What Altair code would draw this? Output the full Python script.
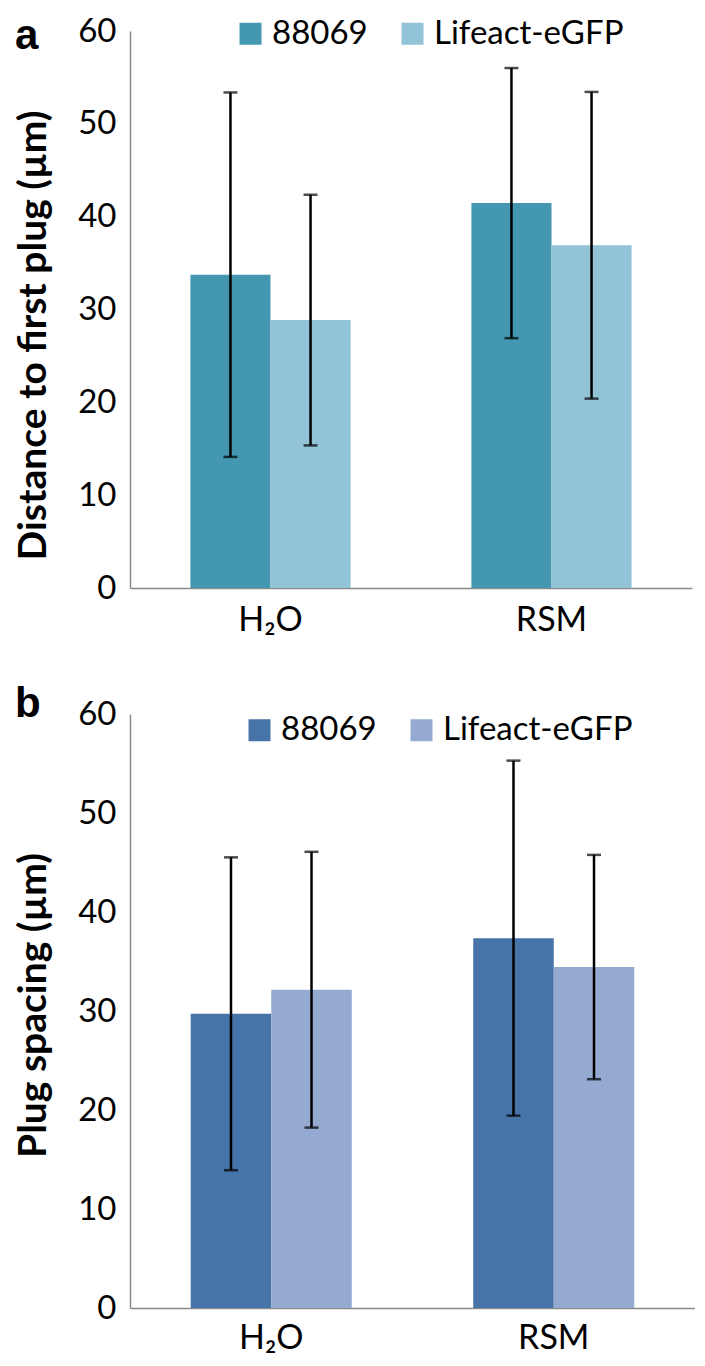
import altair as alt
import pandas as pd

treatments = ["H₂O", "RSM"]
strains = ["88069", "Lifeact-eGFP"]

# panel a: distance to first plug (mean, sd)
a_mean_88069 = [33.75, 41.46]
a_sd_88069 = [19.63, 14.55]
a_mean_lifeact = [28.86, 36.92]
a_sd_lifeact = [13.50, 16.52]

# panel b: plug spacing (mean, sd)
b_mean_88069 = [29.72, 37.36]
b_sd_88069 = [15.80, 17.93]
b_mean_lifeact = [32.15, 34.44]
b_sd_lifeact = [13.93, 11.33]

colors_a = ["#4397B0", "#93C3D6"]
colors_b = ["#4673A8", "#95AAD0"]
panel_letters = ["a", "b"]
y_titles = ["Distance to first plug (µm)", "Plug spacing (µm)"]
y_ticks = [0, 10, 20, 30, 40, 50, 60]

FONT = "Lato"
AXIS_GRAY = "#8a8a8a"


def make_df(m1, s1, m2, s2):
    rows = []
    for i, t in enumerate(treatments):
        rows.append(dict(treatment=t, strain=strains[0], mean=m1[i], sd=s1[i]))
        rows.append(dict(treatment=t, strain=strains[1], mean=m2[i], sd=s2[i]))
    return pd.DataFrame(rows)


def panel(df, colors, letter, ytitle, width, height, legend_x, legend_y,
          title_y, letter_x, letter_y, xlabel_pad):
    base = alt.Chart(df).transform_calculate(
        lo="datum.mean - datum.sd", hi="datum.mean + datum.sd"
    )
    x = alt.X(
        "treatment:N", sort=treatments, title=None,
        scale=alt.Scale(paddingInner=0.43, paddingOuter=0.215),
        axis=alt.Axis(labelAngle=0, labelFontSize=34, labelFont=FONT,
                      labelColor="black", labelPadding=xlabel_pad, ticks=False,
                      domainColor=AXIS_GRAY, domainWidth=1.5),
    )
    xo = alt.XOffset("strain:N", sort=strains,
                     scale=alt.Scale(paddingInner=0, paddingOuter=0))
    yscale = alt.Scale(domain=[0, 60], nice=False)
    yaxis = alt.Axis(values=y_ticks, ticks=False, grid=False, labelFontSize=33,
                     labelFont=FONT, labelColor="black", labelPadding=14,
                     domainColor=AXIS_GRAY, domainWidth=1.5,
                     title=ytitle, titleFont=FONT, titleFontSize=39,
                     titleFontWeight="bold", titleColor="black",
                     titleX=-97, titleY=title_y, titleAngle=-90,
                     titleAlign="center", titleBaseline="middle")
    bars = base.mark_bar().encode(
        x=x, xOffset=xo,
        y=alt.Y("mean:Q", scale=yscale, axis=yaxis),
        color=alt.Color(
            "strain:N", sort=strains,
            scale=alt.Scale(domain=strains, range=colors),
            legend=alt.Legend(orient="none", legendX=legend_x, legendY=legend_y,
                              direction="horizontal", title=None,
                              symbolType="square", symbolSize=484,
                              symbolStrokeWidth=0, labelFontSize=33,
                              labelFont=FONT, labelColor="black",
                              labelOffset=5, labelLimit=0,
                              columnPadding=28, padding=0),
        ),
    )
    rules = base.mark_rule(color="black", strokeWidth=2.5).encode(
        x=x, xOffset=xo, y=alt.Y("lo:Q", scale=yscale), y2="hi:Q"
    )
    cap_lo = base.mark_tick(color="black", thickness=2.5, size=14).encode(
        x=x, xOffset=xo, y=alt.Y("lo:Q", scale=yscale)
    )
    cap_hi = base.mark_tick(color="black", thickness=2.5, size=14).encode(
        x=x, xOffset=xo, y=alt.Y("hi:Q", scale=yscale)
    )
    lab = alt.Chart(pd.DataFrame({"t": [letter]})).mark_text(
        font="Liberation Sans", fontSize=42, fontWeight="bold", color="black",
        align="left", baseline="alphabetic"
    ).encode(x=alt.value(letter_x), y=alt.value(letter_y), text="t:N")
    return alt.layer(bars, rules, cap_lo, cap_hi, lab).properties(
        width=width, height=height
    )


df_a = make_df(a_mean_88069, a_sd_88069, a_mean_lifeact, a_sd_lifeact)
df_b = make_df(b_mean_88069, b_sd_88069, b_mean_lifeact, b_sd_lifeact)

pa = panel(df_a, colors_a, panel_letters[0], y_titles[0], 562, 557,
           104, -14, 304, -115, 18, 15)
pb = panel(df_b, colors_b, panel_letters[1], y_titles[1], 565, 594,
           113, -0.5, 291, -115, 3, 13)

chart = (
    alt.vconcat(pa, pb, spacing=126, bounds="flush")
    .resolve_scale(color="independent", x="independent", xOffset="independent")
    .resolve_legend(color="independent")
    .properties(padding={"left": 6, "top": 7, "right": 0, "bottom": 0})
    .configure_view(stroke=None)
)

chart.save("out.html", embed_options={"renderer": "svg", "actions": False})
